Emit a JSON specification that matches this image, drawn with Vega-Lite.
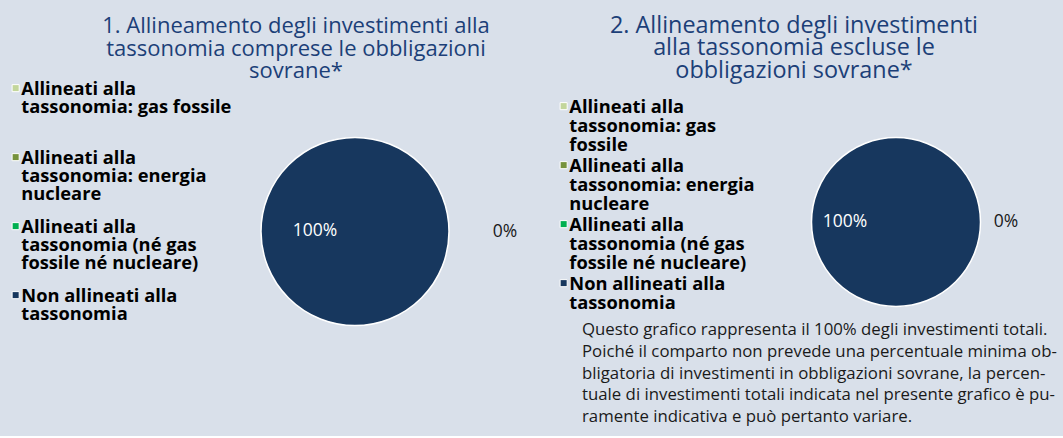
{
  "$schema": "https://vega.github.io/schema/vega-lite/v6.json",
  "background": "#d9e0ea",
  "padding": {"left": 6, "top": 13, "right": 20, "bottom": 10},
  "bounds": "flush",
  "spacing": 322,
  "datasets": {
    "incluse": [
      {"categoria": "Allineati alla tassonomia: gas fossile", "quota": 0},
      {"categoria": "Allineati alla tassonomia: energia nucleare", "quota": 0},
      {"categoria": "Allineati alla tassonomia (né gas fossile né nucleare)", "quota": 0},
      {"categoria": "Non allineati alla tassonomia", "quota": 1}
    ],
    "escluse": [
      {"categoria": "Allineati alla tassonomia: gas fossile", "quota": 0},
      {"categoria": "Allineati alla tassonomia: energia nucleare", "quota": 0},
      {"categoria": "Allineati alla tassonomia (né gas fossile né nucleare)", "quota": 0},
      {"categoria": "Non allineati alla tassonomia", "quota": 1}
    ]
  },
  "title": {
    "text": [
      "Questo grafico rappresenta il 100% degli investimenti totali.",
      "Poiché il comparto non prevede una percentuale minima ob-",
      "bligatoria di investimenti in obbligazioni sovrane, la percen-",
      "tuale di investimenti totali indicata nel presente grafico è pu-",
      "ramente indicativa e può pertanto variare."
    ],
    "orient": "bottom",
    "anchor": "start",
    "frame": "group",
    "align": "left",
    "dx": 346,
    "offset": -69,
    "font": "Open Sans",
    "fontSize": 16.8,
    "fontWeight": "normal",
    "color": "#1a1a1a",
    "lineHeight": 21.8
  },
  "hconcat": [
    {
      "width": 238,
      "height": 319,
      "title": {
        "text": ["1. Allineamento degli investimenti alla", "tassonomia comprese le obbligazioni", "sovrane*"],
        "dx": -59,
        "offset": -11
      },
      "data": {"name": "incluse"},
      "layer": [
        {
          "mark": {"type": "arc", "outerRadius": 94, "stroke": "white", "strokeWidth": 1.5},
          "encoding": {
            "theta": {"field": "quota", "type": "quantitative", "stack": true, "scale": {"range": [1.5708, 7.854]}},
            "color": {
              "field": "categoria",
              "type": "nominal",
              "scale": {
                "domain": ["Allineati alla tassonomia: gas fossile", "Allineati alla tassonomia: energia nucleare", "Allineati alla tassonomia (né gas fossile né nucleare)", "Non allineati alla tassonomia"],
                "range": ["#c3d69b", "#77933c", "#00b050", "#17375e"]
              },
              "legend": {
                "orient": "none",
                "legendX": -229.5,
                "legendY": 7,
                "title": null,
                "gridAlign": "all",
                "rowPadding": 13,
                "labelExpr": "datum.label == 'Allineati alla tassonomia: gas fossile' ? ['Allineati alla', 'tassonomia: gas fossile'] : datum.label == 'Allineati alla tassonomia: energia nucleare' ? ['Allineati alla', 'tassonomia: energia', 'nucleare'] : datum.label == 'Non allineati alla tassonomia' ? ['Non allineati alla', 'tassonomia'] : ['Allineati alla', 'tassonomia (né gas', 'fossile né nucleare)']",
                "encode": {"labels": {"update": {"lineHeight": {"value": 18}, "dy": {"value": -7}}}}
              }
            }
          }
        },
        {
          "transform": [{"filter": "datum.quota > 0"}],
          "mark": {"type": "text", "radius": 40, "font": "Open Sans", "fontSize": 17.5, "color": "white"},
          "encoding": {
            "theta": {"field": "quota", "type": "quantitative", "stack": true},
            "text": {"field": "quota", "type": "quantitative", "format": ".0%"}
          }
        },
        {
          "transform": [{"filter": "datum.categoria == 'Allineati alla tassonomia: gas fossile'"}],
          "mark": {"type": "text", "radius": 150, "font": "Open Sans", "fontSize": 17.5, "color": "#1a1a1a"},
          "encoding": {
            "theta": {"field": "quota", "type": "quantitative", "stack": true},
            "text": {"field": "quota", "type": "quantitative", "format": ".0%"}
          }
        }
      ]
    },
    {
      "width": 200,
      "height": 300,
      "title": {
        "text": ["2. Allineamento degli investimenti", "alla tassonomia escluse le", "obbligazioni sovrane*"],
        "dx": -102,
        "offset": -11,
        "fontSize": 23.4
      },
      "data": {"name": "escluse"},
      "layer": [
        {
          "mark": {"type": "arc", "outerRadius": 84.5, "stroke": "white", "strokeWidth": 1.5},
          "encoding": {
            "theta": {"field": "quota", "type": "quantitative", "stack": true, "scale": {"range": [1.5708, 7.854]}},
            "color": {
              "field": "categoria",
              "type": "nominal",
              "scale": {
                "domain": ["Allineati alla tassonomia: gas fossile", "Allineati alla tassonomia: energia nucleare", "Allineati alla tassonomia (né gas fossile né nucleare)", "Non allineati alla tassonomia"],
                "range": ["#c3d69b", "#77933c", "#00b050", "#17375e"]
              },
              "legend": {
                "orient": "none",
                "legendX": -241.5,
                "legendY": 25,
                "title": null,
                "gridAlign": "all",
                "rowPadding": 1,
                "labelExpr": "datum.label == 'Allineati alla tassonomia: gas fossile' ? ['Allineati alla', 'tassonomia: gas', 'fossile'] : datum.label == 'Allineati alla tassonomia: energia nucleare' ? ['Allineati alla', 'tassonomia: energia', 'nucleare'] : datum.label == 'Non allineati alla tassonomia' ? ['Non allineati alla', 'tassonomia'] : ['Allineati alla', 'tassonomia (né gas', 'fossile né nucleare)']",
                "encode": {"labels": {"update": {"lineHeight": {"value": 19}, "dy": {"value": -7}}}}
              }
            }
          }
        },
        {
          "transform": [{"filter": "datum.quota > 0"}],
          "mark": {"type": "text", "radius": 51, "font": "Open Sans", "fontSize": 17.5, "color": "white"},
          "encoding": {
            "theta": {"field": "quota", "type": "quantitative", "stack": true},
            "text": {"field": "quota", "type": "quantitative", "format": ".0%"}
          }
        },
        {
          "transform": [{"filter": "datum.categoria == 'Allineati alla tassonomia: gas fossile'"}],
          "mark": {"type": "text", "radius": 110, "font": "Open Sans", "fontSize": 17.5, "color": "#1a1a1a"},
          "encoding": {
            "theta": {"field": "quota", "type": "quantitative", "stack": true},
            "text": {"field": "quota", "type": "quantitative", "format": ".0%"}
          }
        }
      ]
    }
  ],
  "resolve": {"scale": {"color": "independent", "theta": "independent"}, "legend": {"color": "independent"}},
  "config": {
    "view": {"stroke": null},
    "title": {"font": "Open Sans", "fontSize": 22, "fontWeight": "normal", "color": "#1c3f78", "lineHeight": 22.5, "anchor": "middle"},
    "legend": {
      "symbolType": "square",
      "symbolSize": 50,
      "symbolStrokeColor": "white",
      "symbolStrokeWidth": 1,
      "symbolOpacity": 1,
      "labelFont": "Open Sans",
      "labelFontSize": 18.3,
      "labelFontWeight": "bold",
      "labelColor": "black",
      "labelLimit": 400,
      "labelOffset": -3.5,
      "labelBaseline": "top",
      "padding": 0
    }
  }
}
